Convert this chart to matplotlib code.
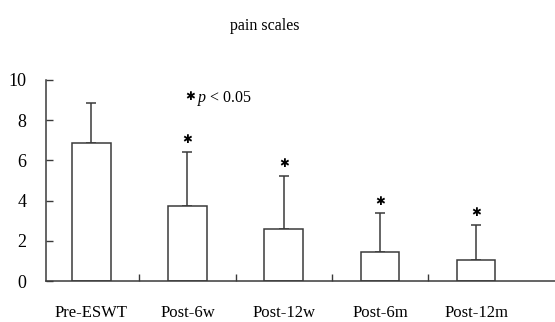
import matplotlib

matplotlib.use("Agg")
import matplotlib.pyplot as plt
import numpy as np

CATEGORIES = ["Pre-ESWT", "Post-6w", "Post-12w", "Post-6m", "Post-12m"]
MEANS = [6.85, 3.75, 2.6, 1.43, 1.03]
SD = [2.0, 2.67, 2.64, 1.94, 1.77]
SIGNIFICANT = [False, True, True, True, True]
Y_TICKS = [0, 2, 4, 6, 8, 10]

_LINE_COLOR = "#3a3a3a"
_SERIF = ["Liberation Serif", "DejaVu Serif"]

plt.rcParams["font.family"] = _SERIF
plt.rcParams["mathtext.fontset"] = "custom"
plt.rcParams["mathtext.it"] = "Liberation Serif:italic"
plt.rcParams["mathtext.rm"] = "Liberation Serif"

fig = plt.figure(figsize=(5.55, 3.22), dpi=100)
ax = fig.add_axes([0.083, 0.127, 0.917, 0.625])

x = np.arange(len(CATEGORIES))
ax.bar(x, MEANS, width=0.4, color="white", edgecolor=_LINE_COLOR, linewidth=1.1, zorder=2)
ax.errorbar(
    x, MEANS, yerr=[np.zeros(len(SD)), SD], fmt="none",
    ecolor=_LINE_COLOR, elinewidth=1.1, capsize=3.3, capthick=1.1, zorder=1,
)

tops = np.array(MEANS) + np.array(SD)
for xi, top, sig in zip(x, tops, SIGNIFICANT):
    if sig:
        ax.text(xi, top + 0.6, "✱", ha="center", va="center", fontsize=8.5,
                family="DejaVu Sans", color="black")

# significance key
ax.text(1.03, 9.15, "✱", ha="center", va="center", fontsize=8.5, family="DejaVu Sans", color="black")
ax.text(1.1, 9.05, "$p$ < 0.05", ha="left", va="center", fontsize=11.5)

ax.set_xlim(-0.47, 4.82)
ax.set_ylim(0, 10)
ax.set_yticks(Y_TICKS)
ax.set_yticklabels([str(t) for t in Y_TICKS], fontsize=13)
ax.set_xticks(x[:-1] + 0.5)
ax.set_xticklabels([])
ax.set_xticks(x, minor=True)
ax.set_xticklabels(CATEGORIES, minor=True, fontsize=12)

ax.tick_params(axis="y", direction="in", length=5, width=1, color=_LINE_COLOR, pad=14)
ax.tick_params(axis="x", which="major", direction="in", length=5, width=1, color=_LINE_COLOR)
ax.tick_params(axis="x", which="minor", length=0, pad=17)

for side in ("top", "right"):
    ax.spines[side].set_visible(False)
for side in ("left", "bottom"):
    ax.spines[side].set_color(_LINE_COLOR)
    ax.spines[side].set_linewidth(1.1)

fig.text(0.477, 0.92, "pain scales", ha="center", va="center", fontsize=11.5)

fig.savefig("out.png", dpi=100)
